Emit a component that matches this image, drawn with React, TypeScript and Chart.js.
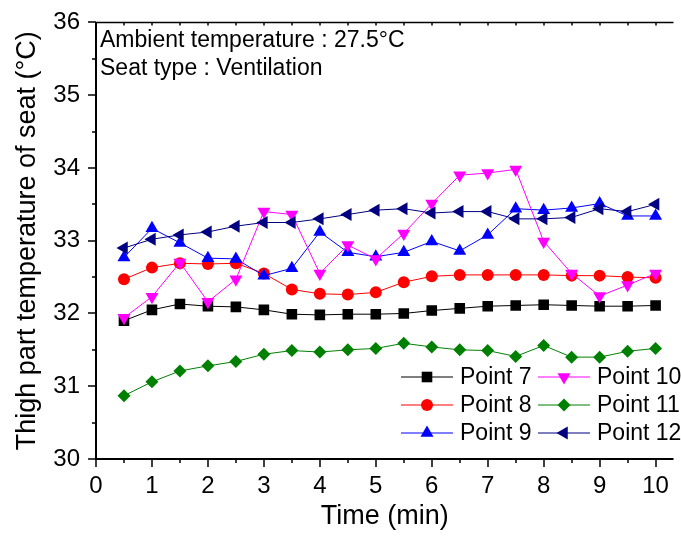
import React, { useEffect, useRef } from 'react';
import { Chart, registerables } from 'chart.js';

Chart.register(...registerables);

// ---------- data ----------
const times = [0.5, 1, 1.5, 2, 2.5, 3, 3.5, 4, 4.5, 5, 5.5, 6, 6.5, 7, 7.5, 8, 8.5, 9, 9.5, 10];

const point7 = [31.90, 32.05, 32.13, 32.10, 32.09, 32.05, 31.99, 31.98, 31.99, 31.99, 32.00, 32.04, 32.07, 32.10, 32.11, 32.12, 32.11, 32.10, 32.10, 32.11];
const point8 = [32.47, 32.63, 32.69, 32.68, 32.69, 32.55, 32.33, 32.27, 32.26, 32.29, 32.43, 32.51, 32.53, 32.53, 32.53, 32.53, 32.52, 32.52, 32.50, 32.49];
const point9 = [32.77, 33.17, 32.97, 32.76, 32.75, 32.52, 32.62, 33.12, 32.84, 32.78, 32.84, 32.99, 32.86, 33.08, 33.44, 33.42, 33.45, 33.51, 33.34, 33.34];
const point10 = [31.94, 32.23, 32.70, 32.16, 32.47, 33.40, 33.36, 32.55, 32.94, 32.75, 33.10, 33.51, 33.90, 33.93, 33.98, 32.99, 32.55, 32.24, 32.39, 32.55];
const point11 = [30.87, 31.06, 31.21, 31.28, 31.34, 31.44, 31.49, 31.47, 31.50, 31.52, 31.59, 31.54, 31.50, 31.49, 31.41, 31.56, 31.40, 31.40, 31.48, 31.52];
const point12 = [32.90, 33.02, 33.08, 33.12, 33.20, 33.25, 33.25, 33.30, 33.36, 33.42, 33.44, 33.38, 33.40, 33.40, 33.30, 33.30, 33.32, 33.44, 33.40, 33.50];

const seriesNames = ['Point 7', 'Point 8', 'Point 9', 'Point 10', 'Point 11', 'Point 12'];
const seriesValues = [point7, point8, point9, point10, point11, point12];

const xTickValues = [0, 1, 2, 3, 4, 5, 6, 7, 8, 9, 10];
const xMinorTickValues = [0, 0.5, 1, 1.5, 2, 2.5, 3, 3.5, 4, 4.5, 5, 5.5, 6, 6.5, 7, 7.5, 8, 8.5, 9, 9.5, 10];
const yTickValues = [30, 31, 32, 33, 34, 35, 36];
const yMinorTickValues = [30.5, 31.5, 32.5, 33.5, 34.5, 35.5];

const xTitle = 'Time (min)';
const yTitle = 'Thigh part temperature of seat (°C)';
const noteLines = ['Ambient temperature : 27.5°C', 'Seat type : Ventilation'];

// legend order (rows of two): 7,10 / 8,11 / 9,12
const legendOrder = [0, 3, 1, 4, 2, 5];

// ---------- styles ----------
const FONT = '"Liberation Sans", Arial, Helvetica, sans-serif';
const colors = ['#000000', '#ff0000', '#0000ff', '#ff00ff', '#008000', '#000080'];
const shapes = ['square', 'circle', 'up', 'down', 'diamond', 'left'];
const radii = [7.5, 6, 7.5, 7.5, 6.5, 7.5];

const toChartStyle = (shape: string) => {
  switch (shape) {
    case 'square': return { pointStyle: 'rect', rotation: 0 };
    case 'circle': return { pointStyle: 'circle', rotation: 0 };
    case 'up': return { pointStyle: 'triangle', rotation: 0 };
    case 'down': return { pointStyle: 'triangle', rotation: 180 };
    case 'left': return { pointStyle: 'triangle', rotation: 270 };
    case 'diamond': return { pointStyle: 'rectRot', rotation: 0 };
    default: return { pointStyle: 'circle', rotation: 0 };
  }
};

function drawMarker(ctx: CanvasRenderingContext2D, shape: string, x: number, y: number, r: number, color: string) {
  ctx.save();
  ctx.fillStyle = color;
  ctx.beginPath();
  const tri = (deg: number) => {
    let a = (deg * Math.PI) / 180;
    ctx.moveTo(x + Math.sin(a) * r, y - Math.cos(a) * r);
    a += (2 * Math.PI) / 3;
    ctx.lineTo(x + Math.sin(a) * r, y - Math.cos(a) * r);
    a += (2 * Math.PI) / 3;
    ctx.lineTo(x + Math.sin(a) * r, y - Math.cos(a) * r);
    ctx.closePath();
  };
  if (shape === 'square') {
    const s = r * Math.SQRT1_2;
    ctx.rect(x - s, y - s, 2 * s, 2 * s);
  } else if (shape === 'circle') {
    ctx.arc(x, y, r, 0, Math.PI * 2);
  } else if (shape === 'diamond') {
    ctx.moveTo(x, y - r);
    ctx.lineTo(x + r, y);
    ctx.lineTo(x, y + r);
    ctx.lineTo(x - r, y);
    ctx.closePath();
  } else if (shape === 'up') tri(0);
  else if (shape === 'down') tri(180);
  else if (shape === 'left') tri(270);
  ctx.fill();
  ctx.restore();
}

const framePlugin = {
  id: 'frame',
  beforeDatasetsDraw(chart: any) {
    const { ctx, chartArea } = chart;
    const xs = chart.scales.x;
    const ys = chart.scales.y;
    const { left, right, top, bottom } = chartArea;
    ctx.save();
    ctx.strokeStyle = '#000';
    // left & bottom axis lines
    ctx.lineWidth = 2;
    ctx.beginPath();
    ctx.moveTo(left, top);
    ctx.lineTo(left, bottom + 1);
    ctx.moveTo(left - 1, bottom);
    ctx.lineTo(right, bottom);
    ctx.stroke();
    // top line
    ctx.lineWidth = 1.5;
    ctx.beginPath();
    ctx.moveTo(left - 1, top);
    ctx.lineTo(right, top);
    ctx.stroke();
    // ticks
    ctx.lineWidth = 1.5;
    ctx.beginPath();
    xMinorTickValues.forEach((v) => {
      const px = Math.round(xs.getPixelForValue(v));
      const major = xTickValues.includes(v);
      ctx.moveTo(px, bottom);
      ctx.lineTo(px, bottom + (major ? 8 : 4));
      ctx.moveTo(px, top);
      ctx.lineTo(px, top + 3);
    });
    yTickValues.forEach((v) => {
      const py = Math.round(ys.getPixelForValue(v));
      ctx.moveTo(left, py);
      ctx.lineTo(left - 8, py);
    });
    yMinorTickValues.forEach((v) => {
      const py = Math.round(ys.getPixelForValue(v));
      ctx.moveTo(left, py);
      ctx.lineTo(left - 4, py);
    });
    ctx.stroke();
    ctx.restore();
  },
  afterDatasetsDraw(chart: any) {
    const { ctx, chartArea } = chart;
    ctx.save();
    // annotation
    ctx.fillStyle = '#000';
    ctx.font = `23px ${FONT}`;
    ctx.textAlign = 'left';
    ctx.textBaseline = 'alphabetic';
    noteLines.forEach((t, i) => {
      ctx.fillText(t, chartArea.left + 4, 47 + i * 28);
    });
    // legend
    const colX = [401, 538];
    const rowY = [377, 405, 433];
    const lineLen = 52;
    ctx.font = `23px ${FONT}`;
    ctx.textBaseline = 'middle';
    legendOrder.forEach((si, k) => {
      const cx = colX[k % 2];
      const cy = rowY[Math.floor(k / 2)];
      ctx.strokeStyle = colors[si];
      ctx.lineWidth = 1.2;
      ctx.beginPath();
      ctx.moveTo(cx, cy);
      ctx.lineTo(cx + lineLen, cy);
      ctx.stroke();
      drawMarker(ctx, shapes[si], cx + lineLen / 2, cy, radii[si], colors[si]);
      ctx.fillStyle = '#000';
      ctx.fillText(seriesNames[si], cx + lineLen + 7, cy + 1);
    });
    ctx.restore();
  },
};

export default function App() {
  const ref = useRef<HTMLCanvasElement | null>(null);
  useEffect(() => {
    if (!ref.current) return;
    const datasets = seriesValues.map((vals, i) => {
      const st = toChartStyle(shapes[i]);
      return {
        label: seriesNames[i],
        data: times.map((t, j) => ({ x: t, y: vals[j] })),
        borderColor: colors[i],
        backgroundColor: colors[i],
        borderWidth: 1,
        pointStyle: st.pointStyle,
        rotation: st.rotation,
        pointRadius: radii[i],
        pointHoverRadius: radii[i],
        pointBorderWidth: 0,
        pointBackgroundColor: colors[i],
        pointBorderColor: colors[i],
        tension: 0,
        order: 6 - i,
      };
    });
    const chart = new Chart(ref.current, {
      type: 'line',
      data: { datasets: datasets as any },
      options: {
        responsive: false,
        animation: false,
        devicePixelRatio: 1,
        layout: { padding: { top: 19, right: 0, left: 0, bottom: 0 } },
        plugins: { legend: { display: false }, tooltip: { enabled: false } },
        scales: {
          x: {
            type: 'linear',
            min: 0,
            max: 10.32,
            grid: { display: false, tickLength: 8 },
            border: { display: false },
            afterBuildTicks: (s: any) => {
              s.ticks = xTickValues.map((v) => ({ value: v }));
            },
            afterFit: (s: any) => {
              s.height = 79;
            },
            ticks: {
              autoSkip: false,
              maxRotation: 0,
              color: '#000',
              padding: 5,
              font: { family: FONT, size: 24 },
            },
            title: {
              display: true,
              text: xTitle,
              color: '#000',
              font: { family: FONT, size: 27 },
              padding: { top: 0, bottom: 5 },
            },
          },
          y: {
            type: 'linear',
            min: 30,
            max: 36,
            grid: { display: false, tickLength: 8 },
            border: { display: false },
            afterBuildTicks: (s: any) => {
              s.ticks = yTickValues.map((v) => ({ value: v }));
            },
            afterFit: (s: any) => {
              s.width = 96;
            },
            ticks: {
              color: '#000',
              padding: 8,
              font: { family: FONT, size: 24 },
            },
            title: {
              display: true,
              text: yTitle,
              color: '#000',
              font: { family: FONT, size: 27 },
              padding: { top: 11, bottom: 0 },
            },
          },
        },
      },
      plugins: [framePlugin],
    });
    return () => chart.destroy();
  }, []);
  return (
    <div style={{ position: 'absolute', left: 0, top: 0, width: 681, height: 538, background: '#fff' }}>
      <canvas ref={ref} width={681} height={538} style={{ display: 'block' }} />
    </div>
  );
}
